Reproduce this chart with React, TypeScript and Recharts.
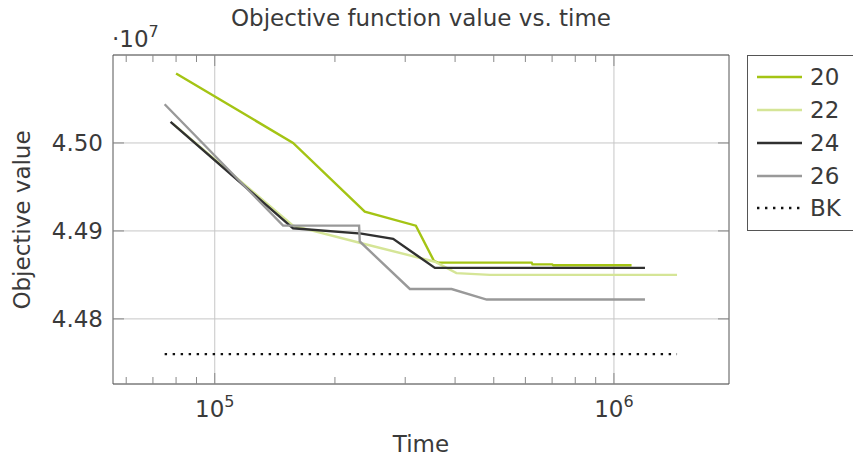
import React from "react";
import {
  LineChart,
  Line,
  XAxis,
  YAxis,
  CartesianGrid,
  ReferenceLine,
} from "recharts";

// values are in units of 1e7 (the axis shows the ·10^7 factor)
const TIME_20 = [8.0e4, 1.571e5, 2.376e5, 3.19e5, 3.54e5, 3.62e5, 6.22e5, 6.25e5, 7.0e5, 7.05e5, 1.107e6];
const OBJ_20 = [4.5079, 4.5, 4.4922, 4.4906, 4.4866, 4.4864, 4.4864, 4.4862, 4.4862, 4.4861, 4.4861];

const TIME_22 = [7.85e4, 1.571e5, 2.331e5, 3.56e5, 4.03e5, 4.89e5, 1.439e6];
const OBJ_22 = [4.5022, 4.4906, 4.4886, 4.4865, 4.4852, 4.485, 4.485];

const TIME_24 = [7.75e4, 1.571e5, 2.331e5, 2.798e5, 3.56e5, 1.196e6];
const OBJ_24 = [4.5024, 4.4903, 4.4897, 4.4891, 4.4858, 4.4858];

const TIME_26 = [7.49e4, 1.483e5, 2.299e5, 2.308e5, 3.081e5, 3.92e5, 4.8e5, 1.196e6];
const OBJ_26 = [4.5044, 4.4906, 4.4906, 4.4888, 4.4834, 4.4834, 4.4822, 4.4822];

const TIME_BK = [7.49e4, 1.439e6];
const OBJ_BK = [4.476, 4.476];

const SERIES_NAMES = ["20", "22", "24", "26", "BK"];
const COLORS = ["#a4c414", "#d5e597", "#303030", "#999999", "#111111"];

const X_MAJOR = [1e5, 1e6];
const X_MINOR = [6e4, 7e4, 8e4, 9e4, 2e5, 3e5, 4e5, 5e5, 6e5, 7e5, 8e5, 9e5];
const X_TICKS = [...X_MINOR, ...X_MAJOR].sort((a, b) => a - b);
const Y_TICKS = [4.48, 4.49, 4.5];

const X_DOMAIN = [55600, 1.942e6];
const Y_DOMAIN = [4.4726, 4.51];

const FONT = "'DejaVu Sans', sans-serif";
const TEXT = "#3a3a3a";
const FRAME = "#555";
const TICK = "#888";
const GRID = "#c6c6c6";
const LINE_W = 2.4;
const DOTS = "2.4 5.6";

const toPoints = (xs: number[], ys: number[]) => xs.map((x, i) => ({ x, y: ys[i] }));

const SERIES = [
  toPoints(TIME_20, OBJ_20),
  toPoints(TIME_22, OBJ_22),
  toPoints(TIME_24, OBJ_24),
  toPoints(TIME_26, OBJ_26),
  toPoints(TIME_BK, OBJ_BK),
];

const isMajor = (v: number) => X_MAJOR.includes(v);

const BottomTick = (props: any) => {
  const { x, y, payload } = props;
  const major = isMajor(payload.value);
  return (
    <g>
      <line x1={x} x2={x} y1={y} y2={y - (major ? 11 : 7)} stroke={TICK} />
      {major && (
        <text x={x} y={y + 33} textAnchor="middle" fontFamily={FONT} fontSize={23} fill={TEXT}>
          10
          <tspan dy={-10} fontSize={16}>
            {Math.round(Math.log10(payload.value))}
          </tspan>
        </text>
      )}
    </g>
  );
};

const TopTick = (props: any) => {
  const { x, y, payload } = props;
  const major = isMajor(payload.value);
  return <line x1={x} x2={x} y1={y} y2={y + (major ? 11 : 7)} stroke={TICK} />;
};

const LeftTick = (props: any) => {
  const { x, y, payload } = props;
  return (
    <g>
      <line x1={x} x2={x + 11} y1={y} y2={y} stroke={TICK} />
      <text x={x - 10} y={y + 8} textAnchor="end" fontFamily={FONT} fontSize={23} fill={TEXT}>
        {payload.value.toFixed(2)}
      </text>
    </g>
  );
};

const RightTick = (props: any) => {
  const { x, y } = props;
  return <line x1={x} x2={x - 11} y1={y} y2={y} stroke={TICK} />;
};

const LEGEND_ROWS = [77, 110, 143, 176, 208];

export default function App() {
  return (
    <div style={{ position: "absolute", left: 0, top: 0, width: 853, height: 456, background: "#fff" }}>
      <LineChart
        width={853}
        height={456}
        margin={{ top: 54, right: 123, bottom: 32, left: 53 }}
      >
        <CartesianGrid stroke={GRID} vertical={false} />
        {X_MAJOR.map((v) => (
          <ReferenceLine key={v} x={v} stroke={GRID} />
        ))}
        <XAxis
          dataKey="x"
          type="number"
          scale="log"
          domain={X_DOMAIN}
          allowDataOverflow
          ticks={X_TICKS}
          interval={0}
          height={40}
          tickSize={0}
          tickMargin={0}
          tickLine={false}
          axisLine={{ stroke: FRAME }}
          tick={<BottomTick />}
        />
        <XAxis
          xAxisId="top"
          orientation="top"
          dataKey="x"
          type="number"
          scale="log"
          domain={X_DOMAIN}
          allowDataOverflow
          ticks={X_TICKS}
          interval={0}
          height={1}
          tickSize={0}
          tickMargin={0}
          tickLine={false}
          axisLine={{ stroke: FRAME }}
          tick={<TopTick />}
        />
        <YAxis
          type="number"
          domain={Y_DOMAIN}
          allowDataOverflow
          ticks={Y_TICKS}
          interval={0}
          width={60}
          tickSize={0}
          tickMargin={0}
          tickLine={false}
          axisLine={{ stroke: FRAME }}
          tick={<LeftTick />}
        />
        <YAxis
          yAxisId="right"
          orientation="right"
          type="number"
          domain={Y_DOMAIN}
          allowDataOverflow
          ticks={Y_TICKS}
          interval={0}
          width={1}
          tickSize={0}
          tickMargin={0}
          tickLine={false}
          axisLine={{ stroke: FRAME }}
          tick={<RightTick />}
        />
        {SERIES.map((pts, i) => (
          <Line
            key={SERIES_NAMES[i]}
            data={pts}
            dataKey="y"
            name={SERIES_NAMES[i]}
            type="linear"
            stroke={COLORS[i]}
            strokeWidth={LINE_W}
            strokeDasharray={SERIES_NAMES[i] === "BK" ? DOTS : undefined}
            dot={false}
            activeDot={false}
            isAnimationActive={false}
          />
        ))}
      </LineChart>

      <svg
        width={853}
        height={456}
        style={{ position: "absolute", left: 0, top: 0, pointerEvents: "none" }}
        fontFamily={FONT}
        fill={TEXT}
      >
        <text x={421} y={26} textAnchor="middle" fontSize={23}>
          Objective function value vs. time
        </text>
        <text x={112} y={47} fontSize={23}>
          ·10
          <tspan dy={-10} fontSize={16}>7</tspan>
        </text>
        <text x={421} y={452} textAnchor="middle" fontSize={23}>
          Time
        </text>
        <text
          x={0}
          y={0}
          transform="translate(30 220) rotate(-90)"
          textAnchor="middle"
          fontSize={23}
        >
          Objective value
        </text>

        <rect x={747.5} y={55.5} width={130} height={175} fill="#fff" stroke={FRAME} />
        {SERIES_NAMES.map((name, i) => (
          <g key={name}>
            <line
              x1={757}
              x2={802}
              y1={LEGEND_ROWS[i]}
              y2={LEGEND_ROWS[i]}
              stroke={COLORS[i]}
              strokeWidth={LINE_W}
              strokeDasharray={name === "BK" ? DOTS : undefined}
            />
            <text x={810} y={LEGEND_ROWS[i] + 8} fontSize={23}>
              {name}
            </text>
          </g>
        ))}
      </svg>
    </div>
  );
}
